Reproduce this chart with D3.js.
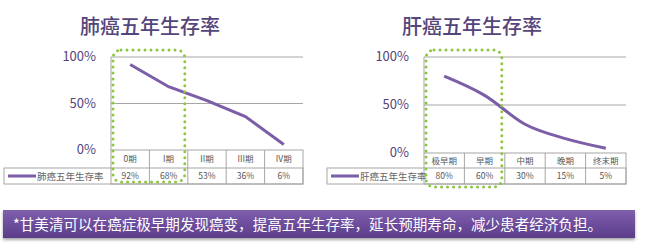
<!DOCTYPE html>
<html>
<head>
<meta charset="utf-8">
<script src="https://cdn.jsdelivr.net/npm/d3@7"></script>
<style>
  body { margin: 0; background: #fff; }
  text { font-family: "Noto Sans CJK SC", "Noto Sans", sans-serif; }
</style>
</head>
<body>
<svg id="chart"></svg>
<script>
const lungStages = ["0期", "I期", "II期", "III期", "IV期"];
const lungRates = [92, 68, 53, 36, 6];
const liverStages = ["极早期", "早期", "中期", "晚期", "终末期"];
const liverRates = [80, 60, 30, 15, 5];
const yTicks = [0, 50, 100];
const bannerText = "*甘美清可以在癌症极早期发现癌变，提高五年生存率，延长预期寿命，减少患者经济负担。";

let svgWidth = 650, svgHeight = 247;
let svg = d3.select("#chart").attr("width", svgWidth).attr("height", svgHeight);

let purple = "#7b5ea7", titleColor = "#54457a", gridColor = "#a6a6a6", green = "#8dc63f";

function drawPanel(cfg) {
    let g = svg.append("g");
    let x = d3.scaleBand().domain(cfg.stages).range([cfg.left, cfg.right]);
    let y = d3.scaleLinear().domain([0, 100]).range([cfg.zeroY, 57]);

    // title
    g.append("text")
        .attr("x", cfg.titleX).attr("y", 34)
        .attr("font-size", 20).attr("font-weight", 500).attr("fill", titleColor)
        .text(cfg.title);

    // grid lines
    g.selectAll("line.grid").data(yTicks.filter(t => t > 0)).enter().append("line")
        .attr("x1", cfg.left).attr("x2", cfg.right)
        .attr("y1", d => y(d)).attr("y2", d => y(d))
        .attr("stroke", gridColor).attr("stroke-width", 1);
    g.append("line")
        .attr("x1", cfg.left).attr("x2", cfg.left)
        .attr("y1", y(100)).attr("y2", y(0))
        .attr("stroke", gridColor);

    // y labels
    g.selectAll("text.ytick").data(yTicks).enter().append("text")
        .attr("x", cfg.left - 15).attr("y", d => y(d) + 4)
        .attr("text-anchor", "end").attr("font-size", 13).attr("fill", titleColor)
        .text(d => d + "%");

    // data table
    let row1 = y(0), row2 = 168, row3 = 184;
    let tbl = g.append("g").attr("stroke", gridColor).attr("stroke-width", 1).attr("fill", "none");
    tbl.append("rect").attr("x", cfg.left).attr("y", row1).attr("width", cfg.right - cfg.left).attr("height", row3 - row1);
    tbl.append("rect").attr("x", cfg.legendX).attr("y", row2).attr("width", cfg.right - cfg.legendX).attr("height", row3 - row2);
    tbl.selectAll("line.col").data(cfg.stages.slice(1)).enter().append("line")
        .attr("x1", d => x(d)).attr("x2", d => x(d)).attr("y1", row1).attr("y2", row3);

    g.selectAll("text.cat").data(cfg.stages).enter().append("text")
        .attr("x", d => x(d) + x.bandwidth() / 2).attr("y", (row1 + row2) / 2 + 3)
        .attr("text-anchor", "middle").attr("font-size", 8.5).attr("fill", "#555")
        .text(d => d);
    g.selectAll("text.val").data(cfg.rates).enter().append("text")
        .attr("x", (d, i) => x(cfg.stages[i]) + x.bandwidth() / 2).attr("y", (row2 + row3) / 2 + 3)
        .attr("text-anchor", "middle").attr("font-size", 8.5).attr("fill", "#555")
        .text(d => d + "%");

    // legend cell
    g.append("line")
        .attr("x1", cfg.legendX + 4).attr("x2", cfg.legendX + 32)
        .attr("y1", (row2 + row3) / 2).attr("y2", (row2 + row3) / 2)
        .attr("stroke", purple).attr("stroke-width", 3);
    g.append("text")
        .attr("x", cfg.legendX + 33).attr("y", (row2 + row3) / 2 + 3.5)
        .attr("font-size", 9.5).attr("fill", "#666")
        .text(cfg.title);

    // line
    let lineGenerator = d3.line()
        .x((d, i) => x(cfg.stages[i]) + x.bandwidth() / 2)
        .y(d => y(d))
        .curve(cfg.curve);
    g.append("path")
        .attr("fill", "none").attr("stroke", purple).attr("stroke-width", 3)
        .attr("d", lineGenerator(cfg.rates));

    // highlight of the early stages
    let hx0 = x(cfg.stages[0]) + 2;
    let hx1 = x(cfg.stages[1]) + x.bandwidth() - 3;
    g.append("rect")
        .attr("x", hx0).attr("y", 50)
        .attr("width", hx1 - hx0).attr("height", cfg.boxBottom - 50)
        .attr("rx", 8)
        .attr("fill", "none").attr("stroke", green).attr("stroke-width", 3)
        .attr("stroke-linecap", "round").attr("stroke-dasharray", "0,6");
}

drawPanel({ title: "肺癌五年生存率", titleX: 80, stages: lungStages, rates: lungRates,
    left: 111, right: 303, zeroY: 150, legendX: 4, boxBottom: 182, curve: d3.curveLinear });
drawPanel({ title: "肝癌五年生存率", titleX: 402, stages: liverStages, rates: liverRates,
    left: 424, right: 626, zeroY: 153, legendX: 327, boxBottom: 187, curve: d3.curveMonotoneX });

// banner
let defs = svg.append("defs");
let grad = defs.append("linearGradient").attr("id", "bannerGrad")
    .attr("x1", 0).attr("x2", 0).attr("y1", 0).attr("y2", 1);
grad.append("stop").attr("offset", "0%").attr("stop-color", "#7f5fae");
grad.append("stop").attr("offset", "100%").attr("stop-color", "#5b3c8a");
let shadow = defs.append("filter").attr("id", "bannerShadow")
    .attr("x", "-5%").attr("y", "-20%").attr("width", "110%").attr("height", "160%");
shadow.append("feDropShadow").attr("dx", 0).attr("dy", 2).attr("stdDeviation", 1.5)
    .attr("flood-color", "#000").attr("flood-opacity", 0.35);

svg.append("rect")
    .attr("x", 3).attr("y", 210).attr("width", 632).attr("height", 28)
    .attr("fill", "url(#bannerGrad)").attr("filter", "url(#bannerShadow)");
svg.append("text")
    .attr("x", 13).attr("y", 229.5)
    .attr("font-size", 14.5).attr("fill", "#fff")
    .attr("textLength", 589).attr("lengthAdjust", "spacingAndGlyphs")
    .text(bannerText);
</script>
</body>
</html>
